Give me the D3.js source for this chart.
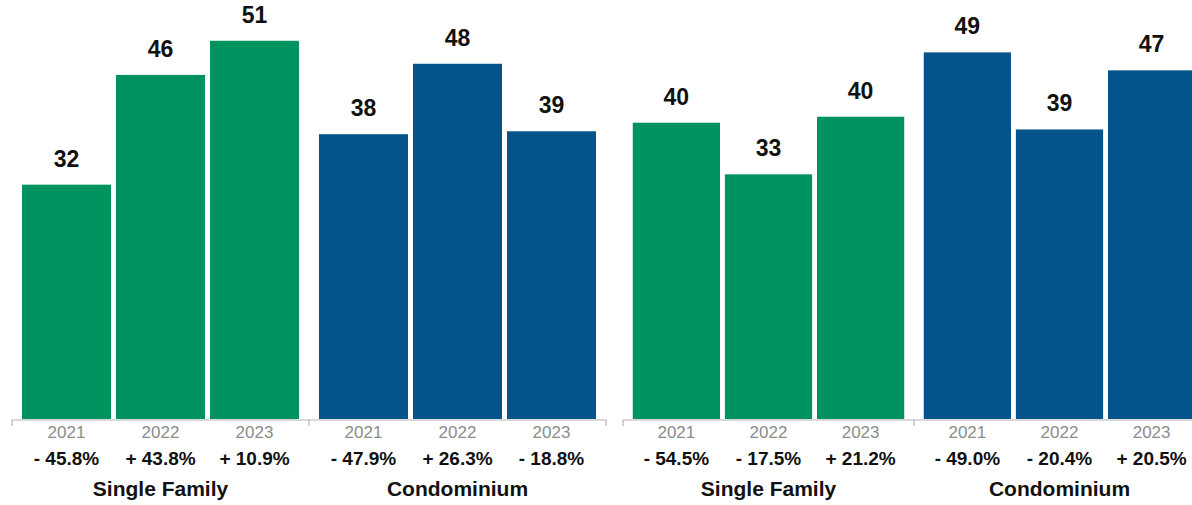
<!DOCTYPE html>
<html>
<head>
<meta charset="utf-8">
<script src="https://cdn.jsdelivr.net/npm/d3@7"></script>
<style>
  body { margin: 0; background: #fff; }
  text { font-family: "Liberation Sans", Arial, Helvetica, sans-serif; }
</style>
</head>
<body>
<script>
// data
var categories = ["Single Family", "Condominium"];
var years = ["2021", "2022", "2023"];

var leftValues = [[31.6, 46.4, 51.0], [38.4, 47.9, 38.8]];
var leftChanges = [["- 45.8%", "+ 43.8%", "+ 10.9%"], ["- 47.9%", "+ 26.3%", "- 18.8%"]];

var rightValues = [[39.6, 32.7, 40.4], [49.0, 38.7, 46.6]];
var rightChanges = [["- 54.5%", "- 17.5%", "+ 21.2%"], ["- 49.0%", "- 20.4%", "+ 20.5%"]];

var colors = {"Single Family": "#00935f", "Condominium": "#02548a"};

var width = 1192, height = 505, baseline = 419;

var svg = d3.select("body").append("svg")
    .attr("width", width)
    .attr("height", height);

function panel(x0, x1, yMax, values, changes) {
    var x = d3.scaleBand().domain(categories).range([x0, x1]);
    var xi = d3.scaleBand().domain(years).range([0, x.bandwidth()])
        .paddingInner(0.053).paddingOuter(0.106);
    var y = d3.scaleLinear().domain([0, yMax]).range([baseline, 0]);

    var rows = [];
    categories.forEach(function(c, i) {
        years.forEach(function(yr, j) {
            rows.push({cat: c, year: yr, value: values[i][j], change: changes[i][j]});
        });
    });

    var g = svg.append("g");

    // bars
    g.selectAll("rect").data(rows).enter().append("rect")
        .attr("x", function(d) { return x(d.cat) + xi(d.year); })
        .attr("y", function(d) { return y(d.value); })
        .attr("width", xi.bandwidth())
        .attr("height", function(d) { return baseline - y(d.value); })
        .attr("fill", function(d) { return colors[d.cat]; });

    // value labels
    g.selectAll(".val").data(rows).enter().append("text")
        .attr("class", "val")
        .attr("x", function(d) { return x(d.cat) + xi(d.year) + xi.bandwidth() / 2; })
        .attr("y", function(d) { return y(d.value) - 18; })
        .attr("text-anchor", "middle")
        .style("font-size", "23px").style("font-weight", "bold").style("fill", "#111")
        .text(function(d) { return Math.round(d.value); });

    // axis line with ticks at group edges
    var edges = [x0].concat(categories.map(function(c) { return x(c) + x.bandwidth(); }));
    g.append("line")
        .attr("x1", x0).attr("x2", x1).attr("y1", baseline + 1).attr("y2", baseline + 1)
        .attr("stroke", "#b3b3b3").attr("stroke-width", 1.2);
    g.selectAll(".tick").data(edges).enter().append("line")
        .attr("x1", function(d) { return d; }).attr("x2", function(d) { return d; })
        .attr("y1", baseline + 1).attr("y2", baseline + 7)
        .attr("stroke", "#b3b3b3").attr("stroke-width", 1.2);

    // year labels
    g.selectAll(".yr").data(rows).enter().append("text")
        .attr("x", function(d) { return x(d.cat) + xi(d.year) + xi.bandwidth() / 2; })
        .attr("y", 438)
        .attr("text-anchor", "middle")
        .style("font-size", "17px").style("fill", "#8c8c8c")
        .text(function(d) { return d.year; });

    // change labels
    g.selectAll(".chg").data(rows).enter().append("text")
        .attr("x", function(d) { return x(d.cat) + xi(d.year) + xi.bandwidth() / 2; })
        .attr("y", 465)
        .attr("text-anchor", "middle")
        .style("font-size", "19px").style("font-weight", "bold").style("fill", "#111")
        .text(function(d) { return d.change; });

    // category labels
    g.selectAll(".cat").data(categories).enter().append("text")
        .attr("x", function(d) { return x(d) + x.bandwidth() / 2; })
        .attr("y", 496)
        .attr("text-anchor", "middle")
        .style("font-size", "21px").style("font-weight", "bold").style("fill", "#111")
        .text(function(d) { return d; });
}

panel(12, 606, 56.5, leftValues, leftChanges);
panel(623, 1205, 56, rightValues, rightChanges);
</script>
</body>
</html>
